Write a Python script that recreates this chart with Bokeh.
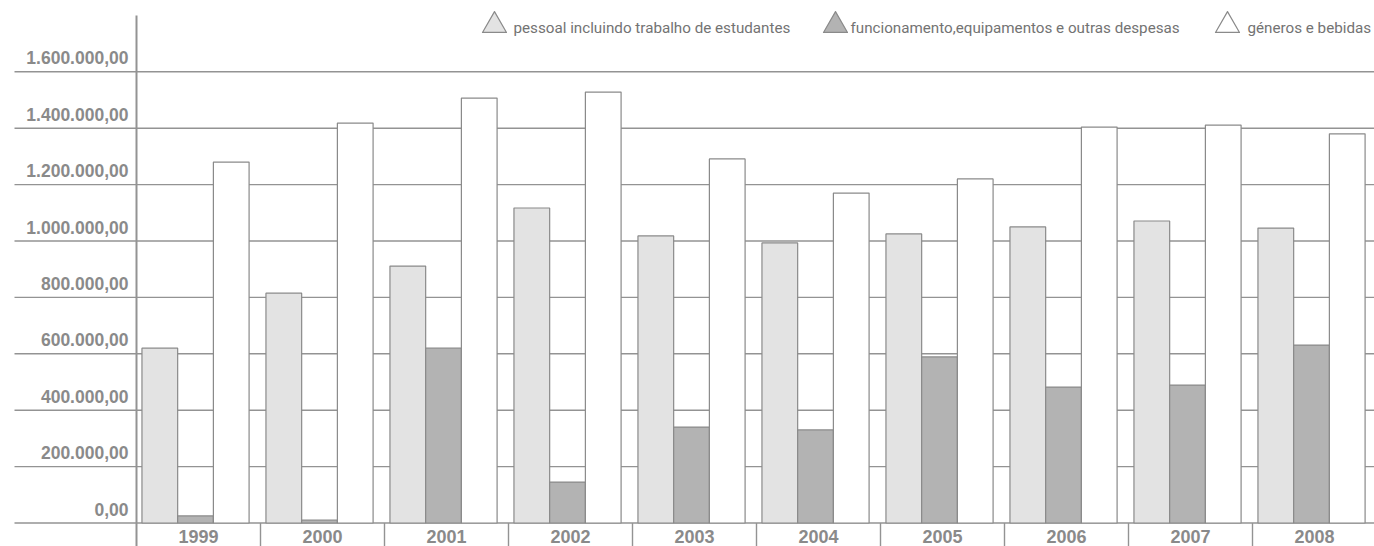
import numpy as np
from bokeh.plotting import figure
from bokeh.models import Range1d
from bokeh.core.properties import value
from bokeh.embed import file_html
from bokeh.resources import INLINE

# ---- data ----
years = ["1999", "2000", "2001", "2002", "2003", "2004", "2005", "2006", "2007", "2008"]
pessoal = [620000, 815000, 911000, 1117000, 1018000, 993000, 1025000, 1050000, 1071000, 1046000]
funcionamento = [25000, 10000, 620000, 145000, 340000, 330000, 589000, 482000, 489000, 631000]
generos = [1280000, 1418000, 1507000, 1528000, 1291000, 1170000, 1220000, 1404000, 1411000, 1380000]
series_names = ["pessoal incluindo trabalho de estudantes",
                "funcionamento,equipamentos e outras despesas",
                "géneros e bebidas"]
y_ticks = [0, 200000, 400000, 600000, 800000, 1000000, 1200000, 1400000, 1600000]
y_tick_labels = ["0,00", "200.000,00", "400.000,00", "600.000,00", "800.000,00",
                 "1.000.000,00", "1.200.000,00", "1.400.000,00", "1.600.000,00"]

# ---- layout (picture pixels -> data) ----
W, H = 1374, 546
CAT_PX = 124.0            # pixels per category
X0_PX = 136.0             # x of category 0 start
ZERO_PX = 522.5           # y of value 0
K = 56.4 / 200000.0       # pixels per unit value

x_start = -X0_PX / CAT_PX
x_end = x_start + W / CAT_PX
y_end = ZERO_PX / K
y_start = y_end - H / K

def px2x(px):
    return x_start + px / CAT_PX

def py2y(py):
    return y_end - py / K

p = figure(width=W, height=H, output_backend="svg", toolbar_location=None,
           x_range=Range1d(x_start, x_end), y_range=Range1d(y_start, y_end),
           min_border=0)
p.axis.visible = False
p.grid.visible = False
p.outline_line_color = None
p.background_fill_color = "white"

grid_col = "#939393"
lab_col = "#8a8a8a"
edge_col = "#8a8a8a"

# gridlines (extend under labels)
gx0 = px2x(14)
p.segment(x0=[gx0] * len(y_ticks), y0=y_ticks, x1=[x_end] * len(y_ticks), y1=y_ticks,
          line_color=grid_col, line_width=1.4)

# tick labels
p.text(x=[px2x(128)] * len(y_ticks), y=y_ticks, text=y_tick_labels,
       text_align="right", text_baseline="alphabetic", y_offset=-14,
       text_font=value("Liberation Sans"), text_font_style="bold",
       text_font_size="17.5px", text_color=lab_col)

# bars
idx = np.arange(len(years))
bw = 0.288
center = 0.476
cols = ["#e3e3e3", "#b3b3b3", "#ffffff"]
for off, vals, c in zip([-bw, 0, bw], [pessoal, funcionamento, generos], cols):
    p.vbar(x=idx + center + off, top=vals, bottom=0, width=bw,
           fill_color=c, line_color=edge_col, line_width=1.2)

# vertical axis & category separators
p.segment(x0=[0], y0=[py2y(15)], x1=[0], y1=[y_start], line_color=grid_col, line_width=2)
seps = np.arange(1, len(years) + 1)
p.segment(x0=seps, y0=[0] * len(seps), x1=seps, y1=[y_start] * len(seps),
          line_color=grid_col, line_width=1.4)

# year labels
p.text(x=idx + 0.5, y=[0] * len(years), text=years, text_align="center",
       text_baseline="alphabetic", y_offset=13.5,
       text_font=value("Liberation Sans"), text_font_style="bold",
       text_font_size="18px", text_color=lab_col)

# legend
tri_px = [494, 835, 1227]
txt_px = [513, 850, 1247]
leg_y = py2y(25)
for tx, lx, c, name in zip(tri_px, txt_px, cols, series_names):
    p.scatter(x=[px2x(tx)], y=[leg_y], marker="triangle", size=24,
              fill_color=c, line_color=edge_col, line_width=1.2, line_join="round")
    p.text(x=[px2x(lx)], y=[py2y(27)], text=[name], text_align="left",
           text_baseline="alphabetic", text_font=value("Roboto"),
           text_font_size="15.2px", text_color="#737373")

open("out.html", "w").write(file_html(p, INLINE))
